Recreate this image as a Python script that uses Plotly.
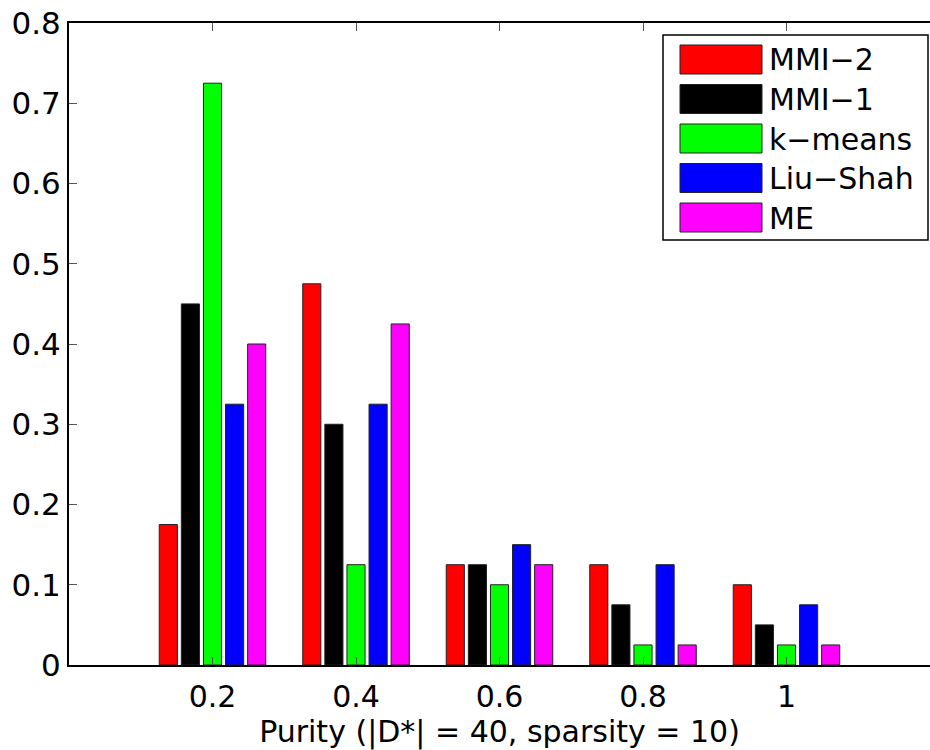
import plotly.graph_objects as go

purity = [0.2, 0.4, 0.6, 0.8, 1.0]
series_names = ["MMI-2", "MMI-1", "k-means", "Liu-Shah", "ME"]
legend_labels = ["MMI\u22122", "MMI\u22121", "k\u2212means", "Liu\u2212Shah", "ME"]
colors = ["#ff0000", "#000000", "#00ff00", "#0000ff", "#ff00ff"]
mmi2 = [0.175, 0.475, 0.125, 0.125, 0.100]
mmi1 = [0.450, 0.300, 0.125, 0.075, 0.050]
kmeans = [0.725, 0.125, 0.100, 0.025, 0.025]
liushah = [0.325, 0.325, 0.150, 0.125, 0.075]
me = [0.400, 0.425, 0.125, 0.025, 0.025]
values = [mmi2, mmi1, kmeans, liushah, me]
y_ticks = [0, 0.1, 0.2, 0.3, 0.4, 0.5, 0.6, 0.7, 0.8]
y_tick_text = ["0", "0.1", "0.2", "0.3", "0.4", "0.5", "0.6", "0.7", "0.8"]
x_tick_text = ["0.2", "0.4", "0.6", "0.8", "1"]

FONT = "DejaVu Sans, Liberation Sans, Arial, sans-serif"
W, H = 930, 750
ML, MR, MT, MB = 69, 0, 23, 85
PW, PH = W - ML - MR, H - MT - MB

fig = go.Figure()
for name, col, vals in zip(series_names, colors, values):
    fig.add_trace(go.Bar(
        x=purity, y=vals, name=name,
        marker=dict(color=col, line=dict(color="#222222", width=1)),
        showlegend=False,
    ))

def px2paper(x, y):
    return (x - ML) / PW, 1 - (y - MT) / PH

shapes = []
annotations = []
# legend box
x0, y0 = px2paper(663, 35)
x1, y1 = px2paper(928, 240)
shapes.append(dict(type="rect", xref="paper", yref="paper", x0=x0, y0=y1, x1=x1, y1=y0,
                   line=dict(color="black", width=1.5), fillcolor="white", layer="above"))
for i, (lab, col) in enumerate(zip(legend_labels, colors)):
    top = 45 + i * 39.5
    sx0, sy0 = px2paper(680, top)
    sx1, sy1 = px2paper(762, top + 29)
    shapes.append(dict(type="rect", xref="paper", yref="paper", x0=sx0, y0=sy1, x1=sx1, y1=sy0,
                       line=dict(color="#222222", width=1), fillcolor=col, layer="above"))
    tx, ty = px2paper(767, top + 15)
    annotations.append(dict(xref="paper", yref="paper", x=tx, y=ty, text=lab, showarrow=False,
                            xanchor="left", yanchor="middle",
                            font=dict(family=FONT, size=30, color="black")))

fig.update_layout(
    width=W, height=H,
    margin=dict(l=ML, r=MR, t=MT, b=MB, pad=0),
    paper_bgcolor="white", plot_bgcolor="white",
    barmode="group", bargap=0.23, bargroupgap=0.18,
    font=dict(family=FONT, size=30, color="black"),
    shapes=shapes, annotations=annotations,
    xaxis=dict(
        range=[0, 1.2], tickmode="array", tickvals=purity, ticktext=x_tick_text,
        showline=True, linecolor="black", linewidth=2, mirror="ticks",
        ticks="inside", ticklen=8, tickcolor="#555555", showgrid=False, zeroline=False,
        tickfont=dict(family=FONT, size=30, color="black"), ticklabelstandoff=4,
        title=dict(text="Purity (|D*| = 40, sparsity = 10)",
                   font=dict(family=FONT, size=30, color="black"), standoff=6),
    ),
    yaxis=dict(
        range=[0, 0.8], tickmode="array", tickvals=y_ticks, ticktext=y_tick_text,
        showline=True, linecolor="black", linewidth=2, mirror=False,
        ticks="inside", ticklen=8, tickcolor="#555555", showgrid=False, zeroline=False,
        tickfont=dict(family=FONT, size=31, color="black"),
    ),
)

fig.write_html("out.html")
